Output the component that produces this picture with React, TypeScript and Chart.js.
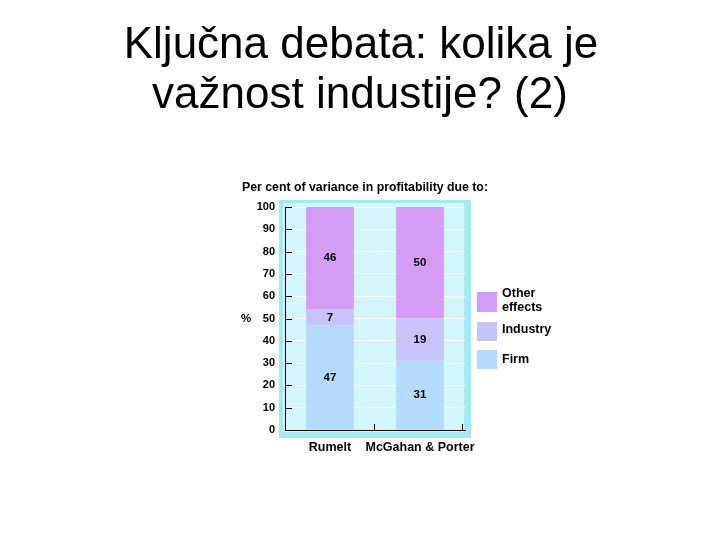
import React, { useEffect, useRef } from "react";
import { Chart, registerables } from "chart.js";

Chart.register(...registerables);

const titleLines = ["Ključna debata: kolika je", "važnost industije? (2)"];
const header = "Per cent of variance in profitability due to:";
const categories = ["Rumelt", "McGahan & Porter"];
const firm = [47, 31];
const industry = [7, 19];
const other = [46, 50];
const seriesNames = ["Firm", "Industry", "Other effects"];
const legendLines = [["Other", "effects"], ["Industry"], ["Firm"]];
const yTicks = [0, 10, 20, 30, 40, 50, 60, 70, 80, 90, 100];

const FONT = "'Liberation Sans', Arial, Helvetica, sans-serif";
const colors = ["#b4dbfb", "#c6c4fa", "#d49cf6"];

export default function App() {
  const ref = useRef<HTMLCanvasElement | null>(null);
  useEffect(() => {
    if (!ref.current) return;
    const decor = {
      id: "decor",
      beforeDraw(chart: any) {
        const ctx = chart.ctx;
        const a = chart.chartArea;
        ctx.save();
        ctx.fillStyle = "#ffffff";
        ctx.fillRect(0, 0, chart.width, chart.height);
        ctx.fillStyle = "#a6e9f5";
        ctx.fillRect(a.left - 6, a.top - 7, a.right - a.left + 12, a.bottom - a.top + 15);
        ctx.fillStyle = "#d3f7fd";
        ctx.fillRect(a.left - 2, a.top - 4, a.right - a.left + 1, a.bottom - a.top + 6);
        ctx.restore();
      },
      afterDraw(chart: any) {
        const ctx = chart.ctx;
        const a = chart.chartArea;
        const y = chart.scales.y;
        ctx.save();
        // title
        ctx.fillStyle = "#000";
        ctx.textAlign = "center";
        ctx.textBaseline = "alphabetic";
        ctx.font = `44px ${FONT}`;
        ctx.fillText(titleLines[0], 361, 58);
        ctx.fillText(titleLines[1], 360, 108);
        // header
        ctx.textAlign = "left";
        ctx.font = `bold 12.3px ${FONT}`;
        ctx.fillText(header, 242, 191);
        // % label
        ctx.textBaseline = "middle";
        ctx.font = `bold 11.5px ${FONT}`;
        ctx.fillText("%", 241, y.getPixelForValue(50));
        // y ticks inside
        ctx.strokeStyle = "#000";
        ctx.lineWidth = 1;
        for (const v of yTicks) {
          const py = Math.round(y.getPixelForValue(v)) + 0.5;
          ctx.beginPath();
          ctx.moveTo(a.left, py);
          ctx.lineTo(a.left + 7, py);
          ctx.stroke();
        }
        // x boundary ticks
        const n = categories.length;
        for (let i = 1; i <= n; i++) {
          const px = Math.round(a.left + ((a.right - a.left - 3) * i) / n) + 0.5;
          ctx.beginPath();
          ctx.moveTo(px, a.bottom);
          ctx.lineTo(px, a.bottom - 6);
          ctx.stroke();
        }
        // value labels
        ctx.textAlign = "center";
        ctx.font = `bold 11.5px ${FONT}`;
        chart.data.datasets.forEach((ds: any, di: number) => {
          const meta = chart.getDatasetMeta(di);
          meta.data.forEach((bar: any, i: number) => {
            const p = bar.getProps(["x", "y", "base"], true);
            ctx.fillText(String(ds.data[i]), p.x, (p.y + p.base) / 2);
          });
        });
        // legend
        const order = [2, 1, 0];
        const tops = [292, 322, 350];
        const textY = [[294, 308], [330], [360]];
        order.forEach((di, k) => {
          const t = tops[k];
          const h = k === 0 ? 20 : 19;
          ctx.fillStyle = colors[di];
          ctx.fillRect(477, t, 20, h);
          ctx.fillStyle = "#000";
          ctx.textAlign = "left";
          ctx.textBaseline = "middle";
          ctx.font = `bold 12.5px ${FONT}`;
          legendLines[k].forEach((ln, j) => {
            ctx.fillText(ln, 502, textY[k][j]);
          });
        });
        ctx.restore();
      },
    };

    const chart = new Chart(ref.current, {
      type: "bar",
      data: {
        labels: categories,
        datasets: [
          { label: seriesNames[0], data: firm, backgroundColor: colors[0] },
          { label: seriesNames[1], data: industry, backgroundColor: colors[1] },
          { label: seriesNames[2], data: other, backgroundColor: colors[2] },
        ],
      },
      options: {
        animation: false,
        responsive: false,
        devicePixelRatio: 1,
        layout: { padding: { left: 0, right: 255, top: 207, bottom: 0 } },
        datasets: { bar: { barPercentage: 0.53, categoryPercentage: 1, borderWidth: 0 } },
        plugins: { legend: { display: false }, title: { display: false }, tooltip: { enabled: false } },
        scales: {
          x: {
            stacked: true,
            grid: { display: false, drawTicks: false },
            border: { display: true, color: "#000", width: 1 },
            ticks: {
              color: "#000",
              padding: 10,
              autoSkip: false,
              maxRotation: 0,
              minRotation: 0,
              font: { family: FONT, size: 12.5, weight: "bold" },
            },
            afterFit: (s: any) => { s.height = 110; },
          },
          y: {
            stacked: true,
            min: 0,
            max: 100,
            ticks: { stepSize: 10, color: "#000", padding: 10, font: { family: FONT, size: 11, weight: "bold" } },
            grid: { color: "#ffffff", lineWidth: 1, drawTicks: false },
            border: { display: true, color: "#000", width: 1 },
            afterFit: (s: any) => { s.width = 285; },
          },
        },
      },
      plugins: [decor],
    });
    return () => chart.destroy();
  }, []);
  return (
    <div style={{ position: "fixed", left: 0, top: 0, width: 720, height: 540, background: "#fff" }}>
      <canvas ref={ref} width={720} height={540} style={{ width: 720, height: 540, display: "block" }} />
    </div>
  );
}
